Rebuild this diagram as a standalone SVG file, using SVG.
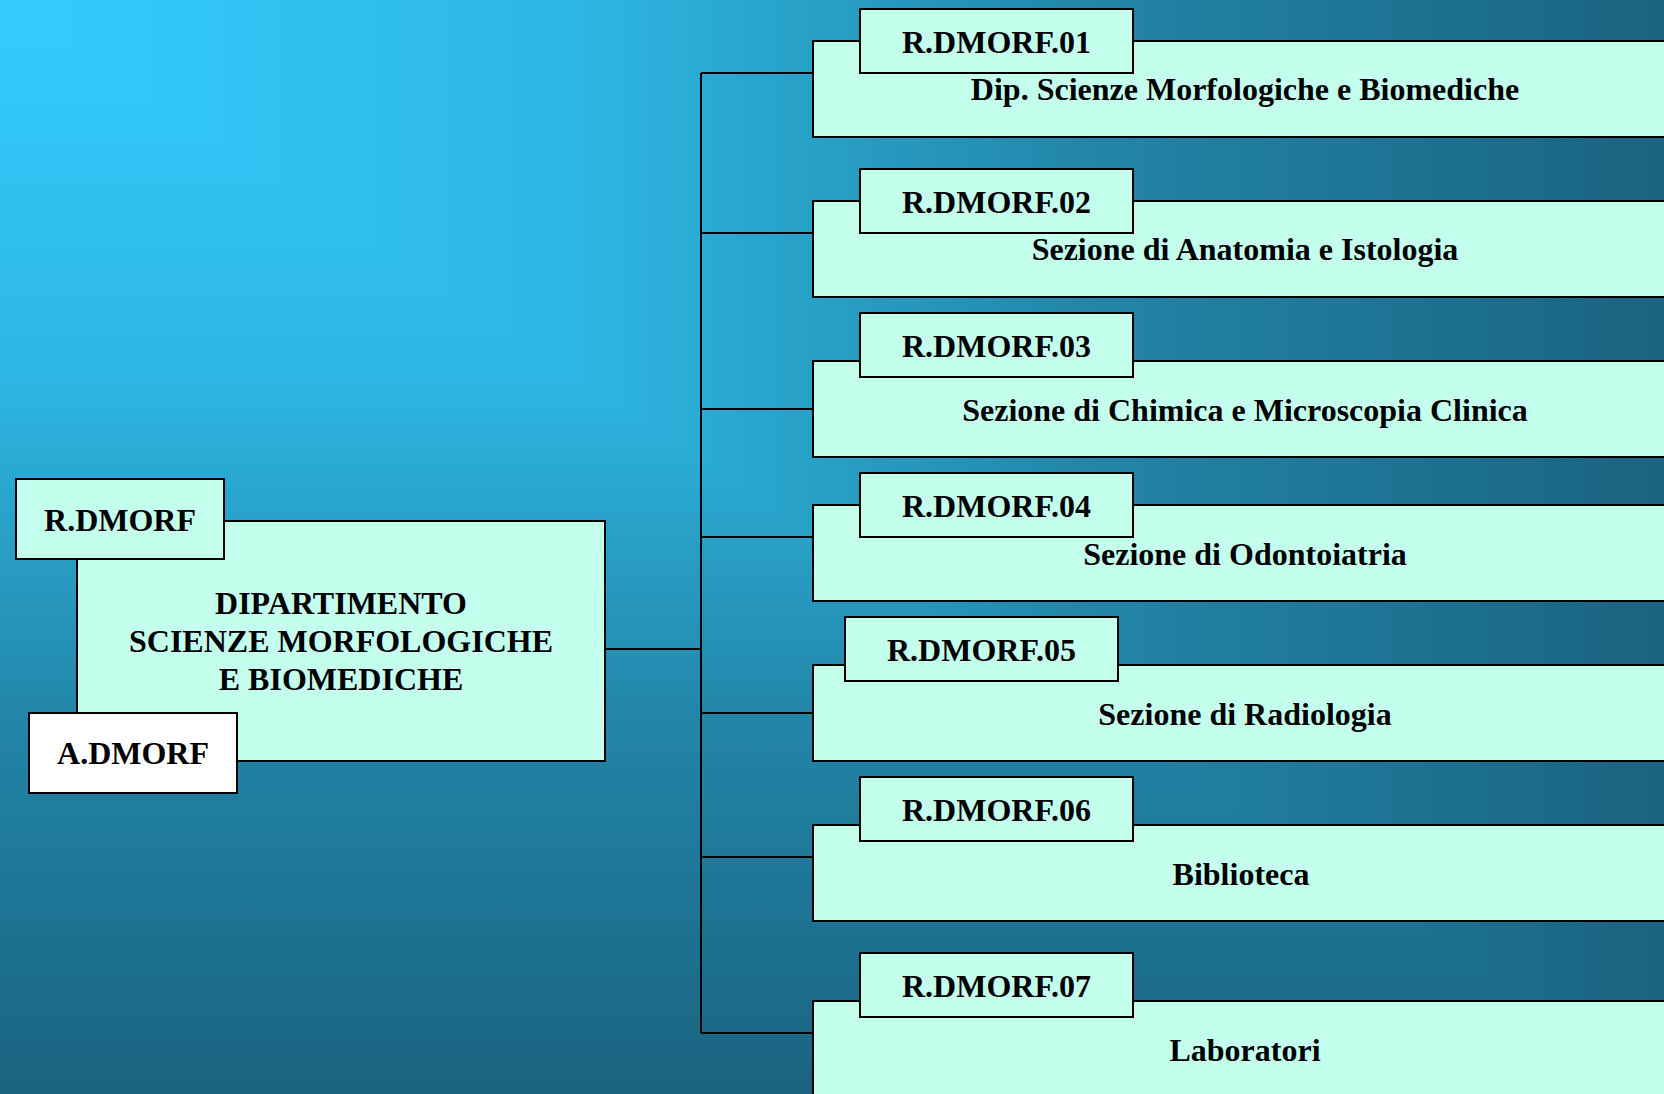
<svg xmlns="http://www.w3.org/2000/svg" width="1664" height="1094" viewBox="0 0 1664 1094">
  <defs>
    <!-- corner gradient: horizontal ramp above the diagonal, vertical ramp below it -->
    <linearGradient id="bgH" x1="0" y1="0" x2="1664" y2="0" gradientUnits="userSpaceOnUse">
      <stop offset="0" stop-color="#33CCFF"/>
      <stop offset="0.35" stop-color="#2DB6E2"/>
      <stop offset="0.66" stop-color="#2285A8"/>
      <stop offset="1" stop-color="#1A6380"/>
    </linearGradient>
    <linearGradient id="bgV" x1="0" y1="0" x2="0" y2="1094" gradientUnits="userSpaceOnUse">
      <stop offset="0" stop-color="#33CCFF"/>
      <stop offset="0.35" stop-color="#2DB6E2"/>
      <stop offset="0.66" stop-color="#2285A8"/>
      <stop offset="1" stop-color="#1A6380"/>
    </linearGradient>
    <style>
      .box { fill: #C4FFED; stroke: #000; stroke-width: 2; }
      .white { fill: #FFFFFF; stroke: #000; stroke-width: 2; }
      .txt { font-family: "Liberation Serif", "Times New Roman", serif; font-weight: bold; font-size: 32px; fill: #000; text-anchor: middle; }
      .wire { fill: none; stroke: #000; stroke-width: 2; }
    </style>
  </defs>

  <!-- background: vertical ramp everywhere, horizontal ramp on the upper-right triangle -->
  <rect x="0" y="0" width="1664" height="1094" fill="url(#bgV)"/>
  <polygon points="0,0 1664,0 1664,1094" fill="url(#bgH)"/>

  <!-- connectors -->
  <g id="connectors" class="wire">
    <line x1="605" y1="649" x2="701" y2="649"/>
    <line x1="701" y1="73" x2="701" y2="1033"/>
    <line x1="701" y1="73" x2="813" y2="73"/>
    <line x1="701" y1="233" x2="813" y2="233"/>
    <line x1="701" y1="409" x2="813" y2="409"/>
    <line x1="701" y1="537" x2="813" y2="537"/>
    <line x1="701" y1="713" x2="813" y2="713"/>
    <line x1="701" y1="857" x2="813" y2="857"/>
    <line x1="701" y1="1033" x2="813" y2="1033"/>
  </g>

  <!-- department -->
  <g id="dipartimento">
    <rect class="box" x="77" y="521" width="528" height="240"/>
    <text class="txt" x="341" y="614">DIPARTIMENTO</text>
    <text class="txt" x="341" y="652">SCIENZE MORFOLOGICHE</text>
    <text class="txt" x="341" y="690">E BIOMEDICHE</text>
  </g>
  <g id="r-dmorf">
    <rect class="box" x="16" y="479" width="208" height="80"/>
    <text class="txt" x="120" y="531">R.DMORF</text>
  </g>
  <g id="a-dmorf">
    <rect class="white" x="29" y="713" width="208" height="80"/>
    <text class="txt" x="133" y="764">A.DMORF</text>
  </g>

  <!-- units -->
  <g id="unit-01">
    <rect class="box" x="813" y="41" width="864" height="96"/>
    <text class="txt" x="1245" y="100">Dip. Scienze Morfologiche e Biomediche</text>
    <rect class="box" x="860" y="9" width="273" height="64"/>
    <text class="txt" x="996.5" y="53">R.DMORF.01</text>
  </g>
  <g id="unit-02">
    <rect class="box" x="813" y="201" width="864" height="96"/>
    <text class="txt" x="1245" y="260">Sezione di Anatomia e Istologia</text>
    <rect class="box" x="860" y="169" width="273" height="64"/>
    <text class="txt" x="996.5" y="213">R.DMORF.02</text>
  </g>
  <g id="unit-03">
    <rect class="box" x="813" y="361" width="864" height="96"/>
    <text class="txt" x="1245" y="420.5">Sezione di Chimica e Microscopia Clinica</text>
    <rect class="box" x="860" y="313" width="273" height="64"/>
    <text class="txt" x="996.5" y="357">R.DMORF.03</text>
  </g>
  <g id="unit-04">
    <rect class="box" x="813" y="505" width="864" height="96"/>
    <text class="txt" x="1245" y="564.5">Sezione di Odontoiatria</text>
    <rect class="box" x="860" y="473" width="273" height="64"/>
    <text class="txt" x="996.5" y="517">R.DMORF.04</text>
  </g>
  <g id="unit-05">
    <rect class="box" x="813" y="665" width="864" height="96"/>
    <text class="txt" x="1245" y="724.5">Sezione di Radiologia</text>
    <rect class="box" x="845" y="617" width="273" height="64"/>
    <text class="txt" x="981.5" y="661">R.DMORF.05</text>
  </g>
  <g id="unit-06">
    <rect class="box" x="813" y="825" width="864" height="96"/>
    <text class="txt" x="1241" y="884.5">Biblioteca</text>
    <rect class="box" x="860" y="777" width="273" height="64"/>
    <text class="txt" x="996.5" y="821">R.DMORF.06</text>
  </g>
  <g id="unit-07">
    <rect class="box" x="813" y="1001" width="864" height="120"/>
    <text class="txt" x="1245" y="1060.5">Laboratori</text>
    <rect class="box" x="860" y="953" width="273" height="64"/>
    <text class="txt" x="996.5" y="997">R.DMORF.07</text>
  </g>
</svg>
